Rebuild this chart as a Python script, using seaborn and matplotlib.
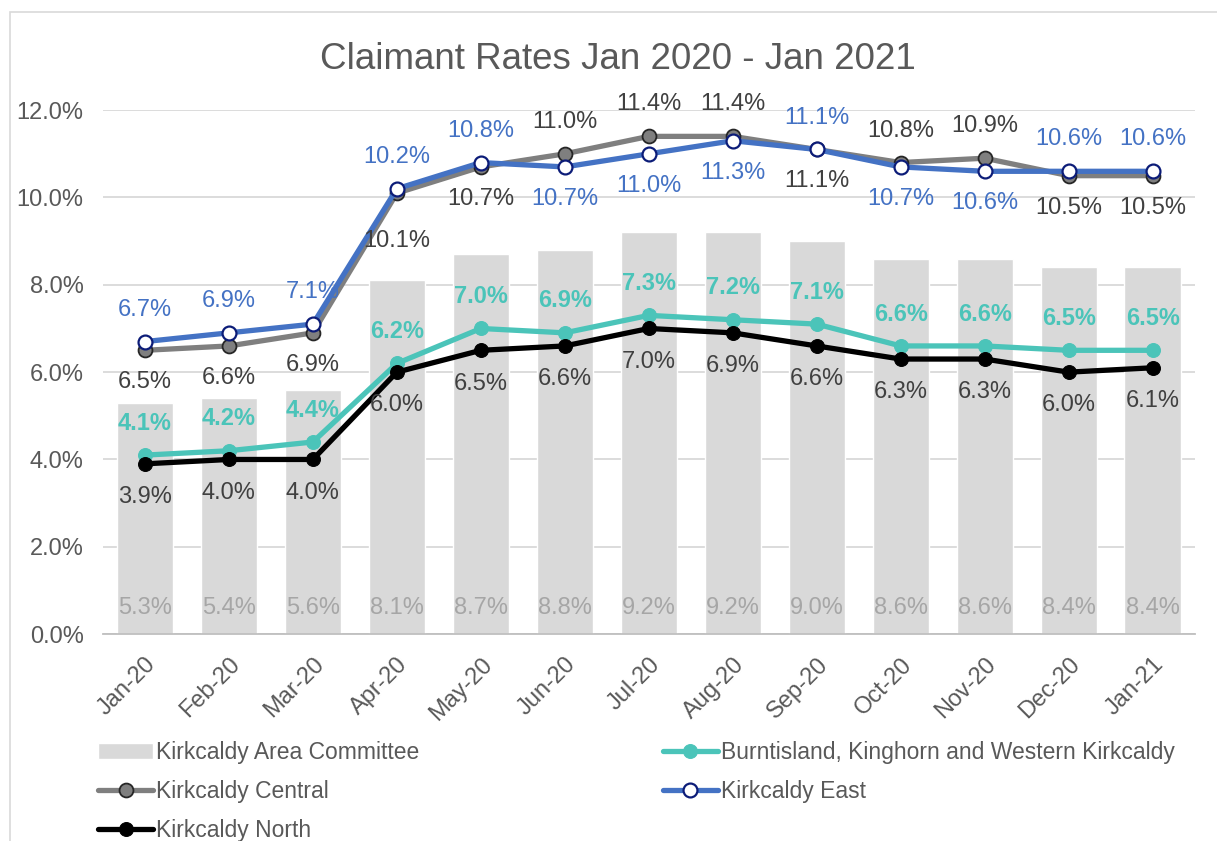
import numpy as np
import seaborn as sns
import matplotlib.pyplot as plt
from matplotlib.patches import Rectangle

months = ["Jan-20", "Feb-20", "Mar-20", "Apr-20", "May-20", "Jun-20", "Jul-20",
          "Aug-20", "Sep-20", "Oct-20", "Nov-20", "Dec-20", "Jan-21"]
area_committee = [5.3, 5.4, 5.6, 8.1, 8.7, 8.8, 9.2, 9.2, 9.0, 8.6, 8.6, 8.4, 8.4]
burntisland = [4.1, 4.2, 4.4, 6.2, 7.0, 6.9, 7.3, 7.2, 7.1, 6.6, 6.6, 6.5, 6.5]
central = [6.5, 6.6, 6.9, 10.1, 10.7, 11.0, 11.4, 11.4, 11.1, 10.8, 10.9, 10.5, 10.5]
east = [6.7, 6.9, 7.1, 10.2, 10.8, 10.7, 11.0, 11.3, 11.1, 10.7, 10.6, 10.6, 10.6]
north = [3.9, 4.0, 4.0, 6.0, 6.5, 6.6, 7.0, 6.9, 6.6, 6.3, 6.3, 6.0, 6.1]

# label placement: 1 above, -1 below, -1.5 further below
central_pos = [-1, -1, -1, -1.5, -1, 1, 1, 1, -1, 1, 1, -1, -1]
east_pos = [1, 1, 1, 1, 1, -1, -1, -1, 1, -1, -1, 1, 1]

sns.set_style("white")
plt.rcParams['font.family'] = ['Liberation Sans', 'DejaVu Sans']

fig = plt.figure(figsize=(12.17, 8.41), dpi=100)
ax = fig.add_axes([0.0846, 0.246, 0.897, 0.623])

grey_txt = "#595959"
x = np.arange(len(months))

sns.barplot(x=months, y=area_committee, color="#D9D9D9", width=0.67,
            saturation=1, ax=ax, label="Kirkcaldy Area Committee", zorder=2)

lw = 3.8
ms = 10
sns.lineplot(x=x, y=burntisland, color="#4BC4B9", linewidth=lw, marker="o",
             markersize=ms, markerfacecolor="#4BC4B9", markeredgecolor="#4BC4B9",
             ax=ax, label="Burntisland, Kinghorn and Western Kirkcaldy", zorder=3)
sns.lineplot(x=x, y=central, color="#7F7F7F", linewidth=lw, marker="o",
             markersize=ms, markerfacecolor="#7F7F7F", markeredgecolor="#262626",
             markeredgewidth=1.3, ax=ax, label="Kirkcaldy Central", zorder=4)
sns.lineplot(x=x, y=east, color="#4472C4", linewidth=lw, marker="o",
             markersize=ms, markerfacecolor="white", markeredgecolor="#0C1C78",
             markeredgewidth=1.6, ax=ax, label="Kirkcaldy East", zorder=5)
sns.lineplot(x=x, y=north, color="black", linewidth=lw, marker="o",
             markersize=ms, markerfacecolor="black", markeredgecolor="black",
             ax=ax, label="Kirkcaldy North", zorder=6)

fs = 17
off = 23
for i in x:
    ax.annotate(f"{area_committee[i]:.1f}%", (i, 0), xytext=(0, 19),
                textcoords="offset points", ha="center", va="center",
                fontsize=fs, color="#A6A6A6", zorder=7)
    ax.annotate(f"{burntisland[i]:.1f}%", (i, burntisland[i]), xytext=(0, off),
                textcoords="offset points", ha="center", va="center",
                fontsize=fs, color="#4BC4B9", fontweight="bold", zorder=7)
    ax.annotate(f"{central[i]:.1f}%", (i, central[i]), xytext=(0, off * central_pos[i]),
                textcoords="offset points", ha="center", va="center",
                fontsize=fs, color="#404040", zorder=7)
    ax.annotate(f"{east[i]:.1f}%", (i, east[i]), xytext=(0, off * east_pos[i]),
                textcoords="offset points", ha="center", va="center",
                fontsize=fs, color="#4472C4", zorder=7)
    ax.annotate(f"{north[i]:.1f}%", (i, north[i]), xytext=(0, -off - 1),
                textcoords="offset points", ha="center", va="center",
                fontsize=fs, color="#404040", zorder=7)

ax.set_xlim(-0.5, len(months) - 0.5)
ax.set_ylim(0, 12)
ax.set_yticks(np.arange(0, 12.1, 2))
ax.set_yticklabels([f"{v:.1f}%" for v in np.arange(0, 12.1, 2)])
ax.set_xticks(x)
ax.set_xticklabels(months, rotation=45, ha="right", rotation_mode="anchor")
ax.set_xticks(np.arange(-0.5, len(months), 1), minor=True)
ax.tick_params(axis="x", which="major", length=0, pad=14, labelsize=fs, labelcolor=grey_txt)
ax.tick_params(axis="x", which="minor", length=7, width=1, color="#BFBFBF", direction="out")
ax.tick_params(axis="y", length=0, pad=14, labelsize=fs, labelcolor=grey_txt)
ax.yaxis.grid(True, color="#D9D9D9", linewidth=1.3, zorder=0)
ax.set_axisbelow(True)
for s in ["top", "right", "left"]:
    ax.spines[s].set_visible(False)
ax.spines["bottom"].set_color("#BFBFBF")
ax.spines["bottom"].set_linewidth(1.3)
ax.set_xlabel("")
ax.set_ylabel("")

fig.text(0.508, 0.929, "Claimant Rates Jan 2020 - Jan 2021", ha="center", va="center",
         fontsize=26.5, color=grey_txt)

handles, labels = ax.get_legend_handles_labels()
ax.get_legend().remove()
order = [labels.index(l) for l in ["Kirkcaldy Area Committee", "Kirkcaldy Central",
                                   "Kirkcaldy North",
                                   "Burntisland, Kinghorn and Western Kirkcaldy",
                                   "Kirkcaldy East"]]
leg = fig.legend([handles[k] for k in order], [labels[k] for k in order],
                 loc="upper left", bbox_to_anchor=(0.073, 0.13), ncol=2,
                 frameon=False, fontsize=16.5, handlelength=2.4, handletextpad=0.15,
                 labelspacing=0.7, columnspacing=10.6, borderaxespad=0)
for t in leg.get_texts():
    t.set_color(grey_txt)

fig.patches.append(Rectangle((10 / 1217, -0.01), 1.0, 1 - 12 / 841 + 0.01,
                             transform=fig.transFigure, fill=False,
                             edgecolor="#D9D9D9", linewidth=1.2))

fig.savefig("out.png", dpi=100)
